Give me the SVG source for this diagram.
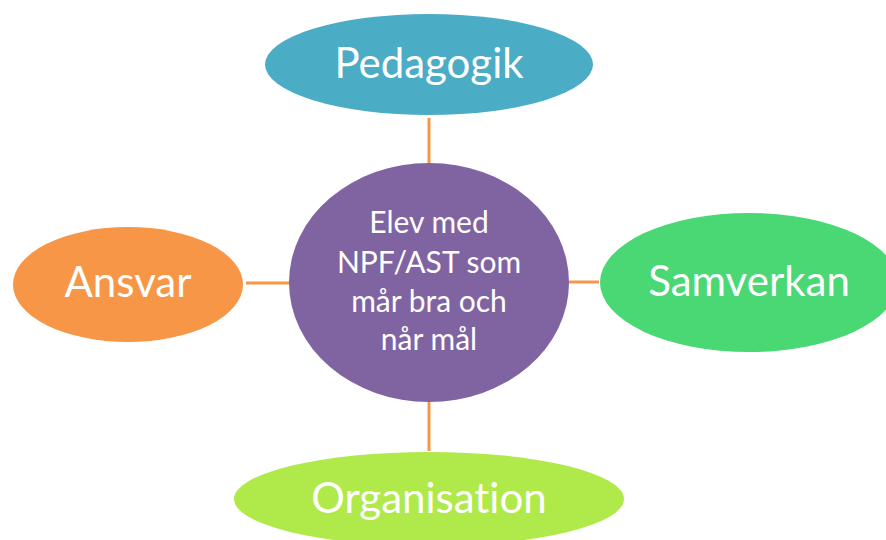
<svg xmlns="http://www.w3.org/2000/svg" width="886" height="540" viewBox="0 0 886 540">
<style>
.lbl{font-family:Lato,"Open Sans","Liberation Sans",sans-serif;fill:#fff;text-anchor:middle;font-variant-ligatures:none}
.big{font-size:42px}
.mid{font-size:30px}
.conn{stroke:#F79646;stroke-width:3;fill:none}
</style>
<rect width="886" height="540" fill="#fff"/>
<g id="connectors">
<line class="conn" x1="429" y1="118" x2="429" y2="163"/>
<line class="conn" x1="246" y1="283" x2="289" y2="283"/>
<line class="conn" x1="569" y1="282" x2="599" y2="282"/>
<line class="conn" x1="429" y1="402" x2="429" y2="451"/>
</g>
<g id="pedagogik">
<ellipse cx="429" cy="64.5" rx="164" ry="50.5" fill="#4BACC6"/>
<text class="lbl big" x="429" y="78">Pedagogik</text>
</g>
<g id="ansvar">
<ellipse cx="128" cy="284.5" rx="115" ry="57.5" fill="#F79646"/>
<text class="lbl big" x="128" y="297">Ansvar</text>
</g>
<g id="samverkan">
<ellipse cx="749" cy="282.5" rx="149" ry="69.5" fill="#49D873"/>
<text class="lbl big" x="749" y="296">Samverkan</text>
</g>
<g id="organisation">
<ellipse cx="429" cy="499" rx="195" ry="47" fill="#AFEA4A"/>
<text class="lbl big" x="429" y="513">Organisation</text>
</g>
<g id="center">
<ellipse cx="429" cy="282.5" rx="140" ry="119.5" fill="#8064A2"/>
<text class="lbl mid" x="429" y="233">Elev med</text>
<text class="lbl mid" x="429" y="273">NPF/AST som</text>
<text class="lbl mid" x="429" y="312">mår bra och</text>
<text class="lbl mid" x="429" y="350">når mål</text>
</g>
</svg>
